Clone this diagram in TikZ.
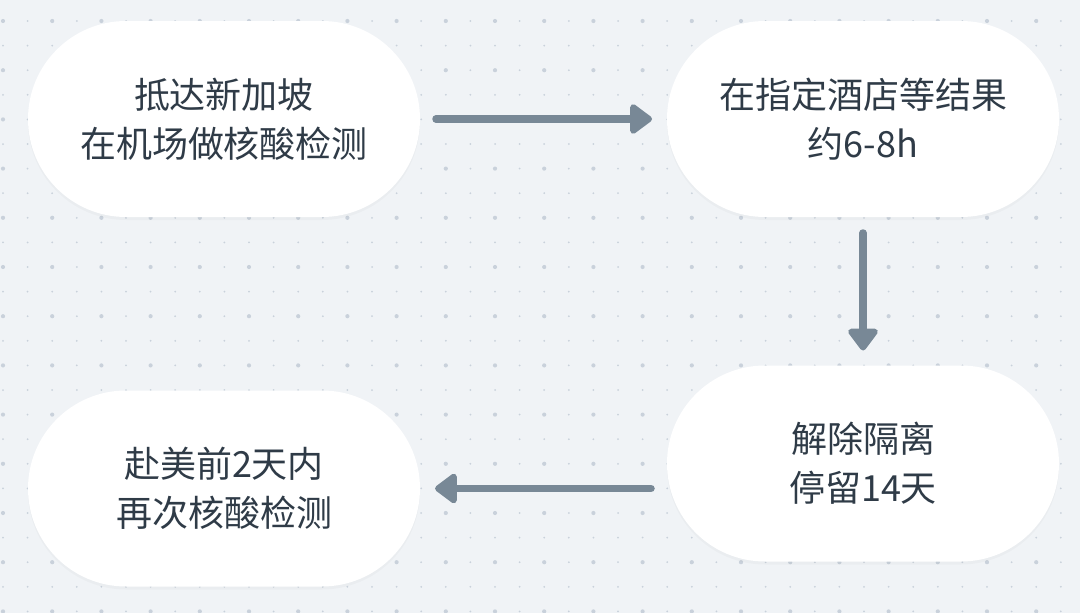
\documentclass[tikz,border=0pt]{standalone}
\usepackage{fontspec}
\setmainfont{Noto Sans CJK SC}
\usepackage{tikz}
\usetikzlibrary{arrows.meta,shapes.misc,shadows}

\definecolor{bgcol}{HTML}{F0F3F6}
\definecolor{dotcol}{HTML}{C9D1DB}
\definecolor{arrowcol}{HTML}{788896}
\definecolor{textcol}{HTML}{2F3B47}

\begin{document}
\begin{tikzpicture}[x=1pt, y=-1pt, font=\fontsize{36pt}{49pt}\selectfont,
     stadium/.style = {rounded rectangle, minimum width=392pt,
     minimum height=196pt, inner sep=0pt, outer sep=0pt, fill=white,
     text=textcol, align=center,
     drop shadow={shadow xshift=0pt, shadow yshift=-3pt,
     opacity=0.025, fill=black}},
     flow/.style = {draw=arrowcol, line width=7.5pt, line cap=round,
     -{Triangle[length=24pt, width=34pt, round]},
     shorten <=16pt, shorten >=15pt}]
    \fill [bgcol] (0,0) rectangle (1080,613);
    \useasboundingbox (0,0) rectangle (1080,613);
    \foreach \i in {0,...,43}
        \foreach \j in {0,...,24}
            \fill [dotcol] (3+24.6*\i, 21+24.6*\j) circle (1pt);
    \foreach \i in {0,...,21}
        \foreach \j in {0,...,12}
            \fill [dotcol] (3+49.2*\i, 21+49.2*\j) circle (2.1pt);
        \node [stadium] 
            at (224,119)   (arrive) {抵达新加坡\\在机场做核酸检测};
        \node [stadium] 
            at (863,119)   (hotel)  {在指定酒店等结果\\约6-8h};
        \node [stadium] 
            at (863,463.5) (release) {解除隔离\\停留14天};
        \node [stadium] 
            at (224,488.5) (retest) {赴美前2天内\\再次核酸检测};
        \draw [flow] (arrive.east) -- (arrive.east -| hotel.west);
        \draw [flow] (hotel.south) -- (release.north);
        \draw [flow] (release.west |- 0,488.5) -- (retest.east);
\end{tikzpicture}
\end{document}
